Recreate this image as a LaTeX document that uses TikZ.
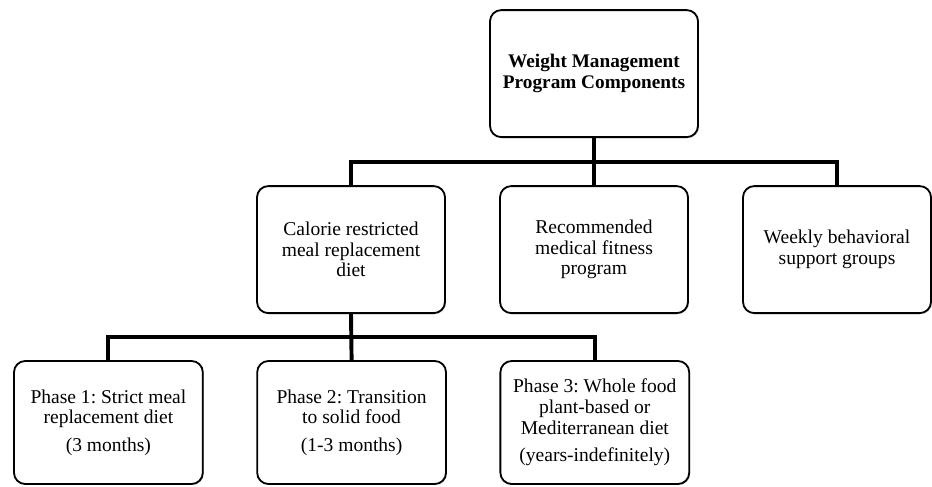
\documentclass[tikz,border=0pt]{standalone}
\usepackage{fontspec}
\setmainfont{Liberation Serif}
\usetikzlibrary{calc,shadows}
\frenchspacing

\tikzset{
  box/.style={draw, line width=1.3pt, rounded corners=8pt, align=center, fill=white, inner sep=2pt,
    drop shadow={shadow xshift=0.7pt, shadow yshift=-0.7pt, opacity=0.45},
    font=\fontsize{13.9}{14.7}\selectfont},
  link/.style={line width=2.8pt}
}

\begin{document}
\begin{tikzpicture}

\useasboundingbox (0,0) rectangle (23.3,-12.15);

\node[box, minimum width=5.2cm, minimum height=3.175cm, font=\fontsize{13.7}{14.7}\selectfont\bfseries] (top) at (14.85, -1.84) {Weight Management\\Program Components};

\node[box, minimum width=4.7cm, minimum height=3.175cm] (mid1) at (8.775, -6.24) {Calorie restricted\\meal replacement\\diet};
\node[box, minimum width=4.7cm, minimum height=3.175cm] (mid2) at (14.85, -6.24) {Recommended\\medical fitness\\program};
\node[box, minimum width=4.7cm, minimum height=3.175cm] (mid3) at (20.925, -6.24) {Weekly behavioral\\support groups};

\node[box, minimum width=4.72cm, minimum height=3.075cm] (low1) at (2.71, -10.5625) {Phase 1: Strict meal\\replacement diet\\[5pt](3 months)};
\node[box, minimum width=4.72cm, minimum height=3.075cm] (low2) at (8.79, -10.5625) {Phase 2: Transition\\to solid food\\[5pt](1-3 months)};
\node[box, minimum width=4.72cm, minimum height=3.075cm] (low3) at (14.87, -10.5625) {Phase 3: Whole food\\plant-based or\\Mediterranean diet\\[5pt](years-indefinitely)};

\coordinate (bus1) at ($(top.south)!0.5!(mid2.north)$);
\draw[link] (top.south) -- (mid2.north);
\draw[link] (mid1.north) |- (bus1) -| (mid3.north);

\coordinate (bus2) at ($(mid1.south)!0.5!(low2.north)$);
\draw[link] (mid1.south) -- (low2.north);
\draw[link] (low1.north) |- (bus2) -| (low3.north);

\end{tikzpicture}
\end{document}
